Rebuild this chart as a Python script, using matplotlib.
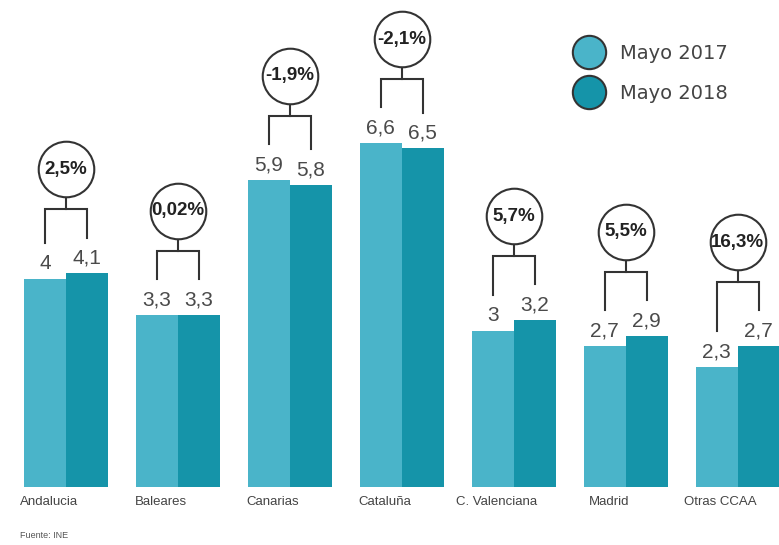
import numpy as np
import matplotlib
matplotlib.use("Agg")
import matplotlib.pyplot as plt
from matplotlib.lines import Line2D

regiones = ["Andalucia", "Baleares", "Canarias", "Cataluña", "C. Valenciana", "Madrid", "Otras CCAA"]
mayo_2017 = [4.0, 3.3, 5.9, 6.6, 3.0, 2.7, 2.3]
mayo_2018 = [4.1, 3.3, 5.8, 6.5, 3.2, 2.9, 2.7]
etiq_2017 = ["4", "3,3", "5,9", "6,6", "3", "2,7", "2,3"]
etiq_2018 = ["4,1", "3,3", "5,8", "6,5", "3,2", "2,9", "2,7"]
variacion = ["2,5%", "0,02%", "-1,9%", "-2,1%", "5,7%", "5,5%", "16,3%"]

c_light = "#4ab4c9"
c_dark = "#1594a9"
c_line = "#333333"
c_text = "#4a4a4a"
fuente = ["Liberation Sans", "DejaVu Sans"]

fig = plt.figure(figsize=(7.79, 5.45), dpi=100)
ax = fig.add_axes([0, 58 / 545, 1, 487 / 545])
ax.set_xlim(-0.59, 6.37)
ax.set_ylim(0, 9.35)
ax.axis("off")

x = np.arange(len(regiones))
w = 0.375
ax.bar(x - w / 2, mayo_2017, w, color=c_light)
ax.bar(x + w / 2, mayo_2018, w, color=c_dark)

for i in range(len(regiones)):
    a, b = mayo_2017[i], mayo_2018[i]
    ax.annotate(etiq_2017[i], (x[i] - w / 2, a), xytext=(0, 4), textcoords="offset points",
                ha="center", va="bottom", fontsize=15, color=c_text, family=fuente)
    ax.annotate(etiq_2018[i], (x[i] + w / 2, b), xytext=(0, 4), textcoords="offset points",
                ha="center", va="bottom", fontsize=15, color=c_text, family=fuente)
    # corchete
    top = max(a, b) + 1.23
    ax.plot([x[i] - w / 2, x[i] - w / 2, x[i] + w / 2, x[i] + w / 2],
            [a + 0.69, top, top, b + 0.69], color=c_line, lw=1.5, solid_joinstyle="miter")
    cy = top + 0.77
    ax.plot([x[i], x[i]], [top, cy], color=c_line, lw=1.5)
    ax.plot(x[i], cy, "o", ms=40, mfc="white", mec=c_line, mew=1.5, zorder=3)
    ax.text(x[i], cy, variacion[i], ha="center", va="center", fontsize=13.5,
            fontweight="bold", color="#222222", family=fuente, zorder=4)
    ax.annotate(regiones[i], (x[i] - 0.15, 0), xytext=(0, -11), textcoords="offset points",
                ha="center", va="center", fontsize=9.5, color="#444444", family=fuente)

handles = [Line2D([], [], ls="none", marker="o", ms=24, mfc=c_light, mec=c_line, mew=1.5),
           Line2D([], [], ls="none", marker="o", ms=24, mfc=c_dark, mec=c_line, mew=1.5)]
fig.legend(handles, ["Mayo 2017", "Mayo 2018"], loc="upper left", bbox_to_anchor=(568 / 779, 1 - 34 / 545),
           frameon=False, labelcolor="#444444", labelspacing=1.1,
           handletextpad=1.0, handlelength=1.2, borderpad=0,
           prop={"family": "DejaVu Sans", "size": 14})

fig.text(20 / 779, 1 - 535 / 545, "Fuente: INE", fontsize=6.5, color="#555555", va="center", family=fuente)

fig.savefig("out.png", dpi=100)
